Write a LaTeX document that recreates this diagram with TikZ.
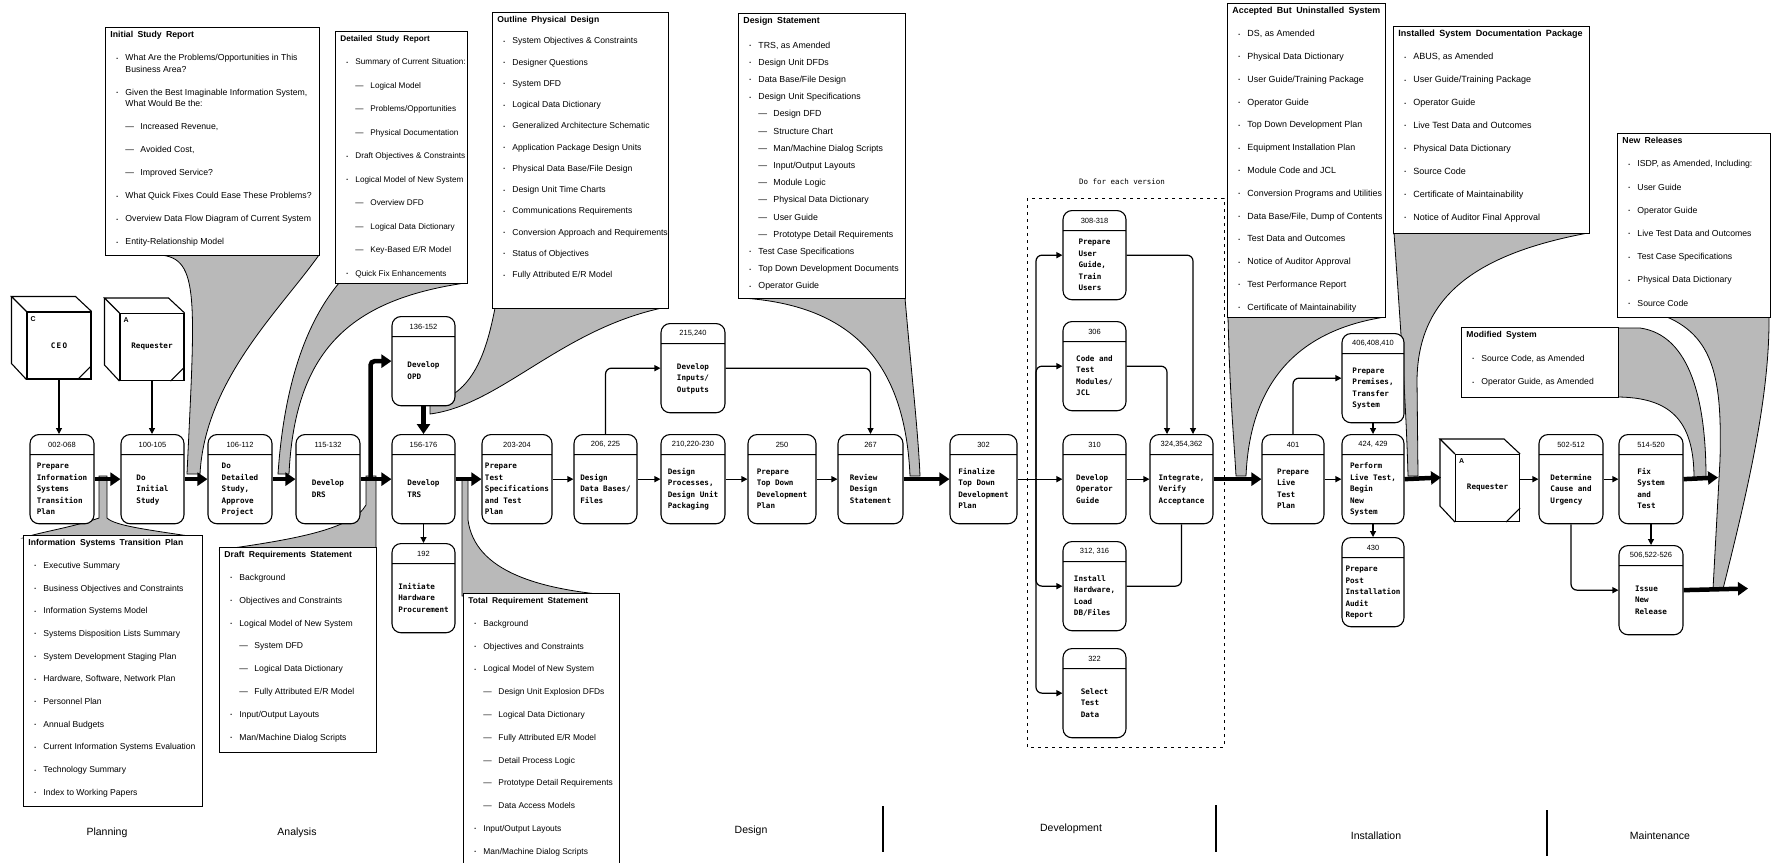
\documentclass[tikz,border=0pt]{standalone}
\usepackage{fontspec}
\setmainfont{Liberation Sans}
\newfontfamily\gothic{DejaVu Sans Mono}
\usetikzlibrary{positioning,arrows.meta,shapes.multipart,calc}

\newcommand{\idfont}{\fontsize{7.5}{8}\selectfont}
\newcommand{\pfont}{\gothic\bfseries\fontsize{7.6}{11.5}\selectfont}
% process box: width, number, text
\newcommand{\ptext}[3]{\parbox[c][19pt][c]{#1pt}{\centering\idfont #2}\nodepart{two}\parbox[c][68pt][c]{#1pt}{\centering\pfont\begin{tabular}{@{}l@{}}#3\end{tabular}}}
% document box: width, height, font size, line pitch, lines
\newcommand{\doclist}[5]{\begin{minipage}[t][#2pt][t]{#1pt}\raggedright\rightskip=-40pt plus 1fil\fontsize{#3}{#4}\selectfont\vspace*{4pt}#5\end{minipage}}
\newcommand{\hd}[1]{\hspace*{5pt}{\bfseries\spaceskip=0.5em plus 0.1em #1}}
\newcommand{\bi}{\hspace*{11pt}\makebox[9pt][l]{\fontsize{5}{5}\selectfont\raisebox{0.6pt}{•}}}
\newcommand{\si}{\hspace*{20pt}\makebox[15pt][l]{—}}
\newcommand{\ci}{\hspace*{20pt}}

\begin{document}
\begin{tikzpicture}[x=1pt, y=-1pt,
    proc/.style={draw, line width=1.1pt, fill=white, rounded corners=9pt, rectangle split, rectangle split parts=2, inner sep=0pt, anchor=north},
    doc/.style={draw, line width=0.9pt, fill=white, inner sep=0pt, anchor=north west},
    fun/.style={draw, line width=0.8pt, fill=gray!55},
    flow/.style={line width=4.5pt, -{Triangle[length=10pt,width=13pt]}},
    link/.style={line width=1.2pt, -{Triangle[length=6pt,width=6pt]}, rounded corners=6pt},
    ext/.style={draw, line width=1.1pt, fill=white, minimum width=64pt, minimum height=67pt, inner sep=0pt, font=\gothic\bfseries\fontsize{7.6}{9}\selectfont},
    phase/.style={font=\fontsize{10.5}{12}\selectfont}]
    \useasboundingbox (0,0) rectangle (1771,862);
    %
    % deliverables flowing out of the arrows
    \draw[fun] (160,252) -- (319,252) -- (319,255) .. controls (280,310) and (205,380) .. (200,474) -- (187,474) .. controls (195,300) and (200,258) .. (160,255) -- cycle;
    \draw[fun] (339,280) -- (465,280) -- (465,283) .. controls (350,300) and (295,350) .. (289,474) -- (278,474) .. controls (283,400) and (300,330) .. (339,283) -- cycle;
    \draw[fun] (495,305) -- (662,305) -- (662,308) .. controls (560,330) and (500,405) .. (430,414) -- (430,404) .. controls (470,395) and (485,360) .. (495,308) -- cycle;
    \draw[fun] (742,295) -- (905,295) -- (905,298) .. controls (912,380) and (918,430) .. (920,476) -- (910,476) .. controls (905,360) and (850,305) .. (742,298) -- cycle;
    \draw[fun] (1228,314) -- (1385,314) -- (1385,317) .. controls (1300,330) and (1250,380) .. (1246,476) -- (1236,476) .. controls (1234,440) and (1230,400) .. (1228,317) -- cycle;
    \draw[fun] (1394,230) -- (1588,230) -- (1588,233) .. controls (1470,255) and (1418,300) .. (1417,380) -- (1418,476) -- (1408,476) .. controls (1406,400) and (1400,320) .. (1394,233) -- cycle;
    \draw[fun] (1616,328) -- (1640,328) .. controls (1690,335) and (1706,400) .. (1706,478) -- (1694,478) .. controls (1694,420) and (1670,397) .. (1616,397) -- cycle;
    \draw[fun] (1662,315) .. controls (1715,335) and (1722,380) .. (1720,460) -- (1713,589) -- (1723,589) .. controls (1745,500) and (1770,400) .. (1769,315) -- cycle;
    \draw[fun] (99,476) -- (99,518) .. controls (70,528) and (40,532) .. (23,538) -- (202,538) .. controls (150,530) and (115,526) .. (107,518) -- (107,476) -- cycle;
    \draw[fun] (219,550) .. controls (290,540) and (352,530) .. (366,505) -- (366,476) -- (376,476) -- (376,550) -- cycle;
    \draw[fun] (462,478) -- (468,478) -- (468,520) .. controls (475,572) and (540,590) .. (619,596) -- (462,596) -- cycle;
    %
    % documents
    \node[doc] (isr) at (105,27) {\doclist{214}{228}{8.7}{11.5}{%
        \hd{Initial Study Report}\\[11.5pt]
        \bi What Are the Problems/Opportunities in This\\
        \ci Business Area?\\[11.5pt]
        \bi Given the Best Imaginable Information System,\\
        \ci What Would Be the:\\[11.5pt]
        \si Increased Revenue,\\[11.5pt]
        \si Avoided Cost,\\[11.5pt]
        \si Improved Service?\\[11.5pt]
        \bi What Quick Fixes Could Ease These Problems?\\[11.5pt]
        \bi Overview Data Flow Diagram of Current System\\[11.5pt]
        \bi Entity-Relationship Model}};
    \node[doc] (dsr) at (335,31) {\doclist{132}{252}{8.2}{23.5}{%
        \hd{Detailed Study Report}\\
        \bi Summary of Current Situation:\\
        \si Logical Model\\
        \si Problems/Opportunities\\
        \si Physical Documentation\\
        \bi Draft Objectives \& Constraints\\
        \bi Logical Model of New System\\
        \si Overview DFD\\
        \si Logical Data Dictionary\\
        \si Key-Based E/R Model\\
        \bi Quick Fix Enhancements}};
    \node[doc] (opd) at (492,12) {\doclist{176}{296}{8.6}{21.25}{%
        \hd{Outline Physical Design}\\
        \bi System Objectives \& Constraints\\
        \bi Designer Questions\\
        \bi System DFD\\
        \bi Logical Data Dictionary\\
        \bi Generalized Architecture Schematic\\
        \bi Application Package Design Units\\
        \bi Physical Data Base/File Design\\
        \bi Design Unit Time Charts\\
        \bi Communications Requirements\\
        \bi Conversion Approach and Requirements\\
        \bi Status of Objectives\\
        \bi Fully Attributed E/R Model}};
    \node[doc] (ds) at (738,13) {\doclist{167}{285}{8.8}{17.2}{%
        \hd{Design Statement}\\[7pt]
        \bi TRS, as Amended\\
        \bi Design Unit DFDs\\
        \bi Data Base/File Design\\
        \bi Design Unit Specifications\\
        \si Design DFD\\
        \si Structure Chart\\
        \si Man/Machine Dialog Scripts\\
        \si Input/Output Layouts\\
        \si Module Logic\\
        \si Physical Data Dictionary\\
        \si User Guide\\
        \si Prototype Detail Requirements\\
        \bi Test Case Specifications\\
        \bi Top Down Development Documents\\
        \bi Operator Guide}};
    \node[doc] (abus) at (1227,3) {\doclist{158}{314}{8.9}{22.8}{%
        \hd{Accepted But Uninstalled System}\\
        \bi DS, as Amended\\
        \bi Physical Data Dictionary\\
        \bi User Guide/Training Package\\
        \bi Operator Guide\\
        \bi Top Down Development Plan\\
        \bi Equipment Installation Plan\\
        \bi Module Code and JCL\\
        \bi Conversion Programs and Utilities\\
        \bi Data Base/File, Dump of Contents\\
        \bi Test Data and Outcomes\\
        \bi Notice of Auditor Approval\\
        \bi Test Performance Report\\
        \bi Certificate of Maintainability}};
    \node[doc] (isdp) at (1393,26) {\doclist{196}{207}{9}{22.9}{%
        \hd{Installed System Documentation Package}\\
        \bi ABUS, as Amended\\
        \bi User Guide/Training Package\\
        \bi Operator Guide\\
        \bi Live Test Data and Outcomes\\
        \bi Physical Data Dictionary\\
        \bi Source Code\\
        \bi Certificate of Maintainability\\
        \bi Notice of Auditor Final Approval}};
    \node[doc] (nrel) at (1617,133) {\doclist{153}{184}{8.7}{23.2}{%
        \hd{New Releases}\\
        \bi ISDP, as Amended, Including:\\
        \bi User Guide\\
        \bi Operator Guide\\
        \bi Live Test Data and Outcomes\\
        \bi Test Case Specifications\\
        \bi Physical Data Dictionary\\
        \bi Source Code}};
    \node[doc] (msys) at (1461,327) {\doclist{157}{70}{8.6}{23.5}{%
        \hd{Modified System}\\
        \bi Source Code, as Amended\\
        \bi Operator Guide, as Amended}};
    \node[doc] (istp) at (23,535) {\doclist{179}{271}{8.6}{22.7}{%
        \hd{Information Systems Transition Plan}\\
        \bi Executive Summary\\
        \bi Business Objectives and Constraints\\
        \bi Information Systems Model\\
        \bi Systems Disposition Lists Summary\\
        \bi System Development Staging Plan\\
        \bi Hardware, Software, Network Plan\\
        \bi Personnel Plan\\
        \bi Annual Budgets\\
        \bi Current Information Systems Evaluation\\
        \bi Technology Summary\\
        \bi Index to Working Papers}};
    \node[doc] (drs) at (219,547) {\doclist{157}{205}{8.6}{22.8}{%
        \hd{Draft Requirements Statement}\\
        \bi Background\\
        \bi Objectives and Constraints\\
        \bi Logical Model of New System\\
        \si System DFD\\
        \si Logical Data Dictionary\\
        \si Fully Attributed E/R Model\\
        \bi Input/Output Layouts\\
        \bi Man/Machine Dialog Scripts}};
    \node[doc] (trs) at (463,593) {\doclist{156}{276}{8.4}{22.8}{%
        \hd{Total Requirement Statement}\\
        \bi Background\\
        \bi Objectives and Constraints\\
        \bi Logical Model of New System\\
        \si Design Unit Explosion DFDs\\
        \si Logical Data Dictionary\\
        \si Fully Attributed E/R Model\\
        \si Detail Process Logic\\
        \si Prototype Detail Requirements\\
        \si Data Access Models\\
        \bi Input/Output Layouts\\
        \bi Man/Machine Dialog Scripts}};
    %
    % external entities
    \node[ext] (ceo) at (59,345.5) {C\,E\,O};
    \node[ext] (req1) at (152,347) {Requester};
    \node[ext] (req2) at (1487.5,488) {Requester};
    \foreach \c/\l in {ceo/C, req1/A, req2/A} {
        \draw[line width=1.1pt] (\c.north west) -- ++(-15,-15) -- ++(64,0) -- (\c.north east);
        \draw[line width=1.1pt] (\c.north west) ++(-15,-15) -- ++(0,67) -- (\c.south west);
        \draw[line width=1pt] ([xshift=-14pt]\c.south east) -- ([yshift=14pt]\c.south east);
        \node[anchor=north west, inner sep=0pt, font=\bfseries\fontsize{7}{8}\selectfont] at ([shift={(4pt,-5pt)}]\c.north west) {\l};
    }
    %
    % processes
    \node[proc] (p002) at (62,434) {\ptext{64}{002-068}{Prepare\\Information\\Systems\\Transition\\Plan}};
    \node[proc] (p100) at (152.5,434) {\ptext{63}{100-105}{Do\\Initial\\Study}};
    \node[proc] (p106) at (240,434) {\ptext{64}{106-112}{Do\\Detailed\\Study,\\Approve\\Project}};
    \node[proc] (p115) at (328,434) {\ptext{64}{115-132}{Develop\\DRS}};
    \node[proc] (p136) at (423.5,316) {\ptext{63}{136-152}{Develop\\OPD}};
    \node[proc] (p156) at (423.5,434) {\ptext{63}{156-176}{Develop\\TRS}};
    \node[proc] (p192) at (423.5,543) {\ptext{63}{192}{Initiate\\Hardware\\Procurement}};
    \node[proc] (p203) at (517,434) {\ptext{70}{203-204}{Prepare\\Test\\Specifications\\and Test\\Plan}};
    \node[proc] (p206) at (605.5,434) {\ptext{63}{206, 225}{Design\\Data Bases/\\Files}};
    \node[proc] (p210) at (693,434) {\ptext{64}{210,220-230}{Design\\Processes,\\Design Unit\\Packaging}};
    \node[proc] (p215) at (693,323) {\ptext{64}{215,240}{Develop\\Inputs/\\Outputs}};
    \node[proc] (p250) at (782,434) {\ptext{68}{250}{Prepare\\Top Down\\Development\\Plan}};
    \node[proc] (p267) at (870.5,434) {\ptext{65}{267}{Review\\Design\\Statement}};
    \node[proc] (p302) at (983.5,434) {\ptext{67}{302}{Finalize\\Top Down\\Development\\Plan}};
    \node[proc] (p308) at (1094.5,210) {\ptext{63}{308-318}{Prepare\\User\\Guide,\\Train\\Users}};
    \node[proc] (p306) at (1094.5,321) {\ptext{63}{306}{Code and\\Test\\Modules/\\JCL}};
    \node[proc] (p310) at (1094.5,434) {\ptext{63}{310}{Develop\\Operator\\Guide}};
    \node[proc] (p312) at (1094.5,541) {\ptext{63}{312, 316}{Install\\Hardware,\\Load\\DB/Files}};
    \node[proc] (p322) at (1094.5,648) {\ptext{63}{322}{Select\\Test\\Data}};
    \node[proc] (p324) at (1181.5,434) {\ptext{63}{324,354,362}{Integrate,\\Verify\\Acceptance}};
    \node[proc] (p401) at (1293,434) {\ptext{62}{401}{Prepare\\Live\\Test\\Plan}};
    \node[proc] (p406) at (1373,333) {\ptext{62}{406,408,410}{Prepare\\Premises,\\Transfer\\System}};
    \node[proc] (p424) at (1373,434) {\ptext{62}{424, 429}{Perform\\Live Test,\\Begin\\New\\System}};
    \node[proc] (p430) at (1373,537) {\ptext{62}{430}{Prepare\\Post\\Installation\\Audit\\Report}};
    \node[proc] (p502) at (1571,434) {\ptext{64}{502-512}{Determine\\Cause and\\Urgency}};
    \node[proc] (p514) at (1651,434) {\ptext{64}{514-520}{Fix\\System\\and\\Test}};
    \node[proc] (p506) at (1651,545) {\ptext{64}{506,522-526}{Issue\\New\\Release}};
    %
    \node[coordinate] (fork) at (1036,477.5) {};
    \node[coordinate] (req2b) at (1441,477.5) {};
    \node[coordinate] (out1) at (1718,477.5) {};
    \node[coordinate] (out2) at (1748,588.5) {};
    %
    % flows
    \draw[link] (ceo.south) -- (ceo.south |- p002.north);
    \draw[link] (req1.south) -- (req1.south |- p100.north);
    \draw[flow] (p002) -- (p100);
    \draw[flow] (p100) -- (p106);
    \draw[flow] (p106) -- (p115);
    \draw[flow] (p115) -- (p156);
    \draw[flow, rounded corners=4pt] ([xshift=10pt]p115.east) |- (p136.west);
    \draw[flow] (p136) -- (p156);
    \draw[link] (p156) -- (p192);
    \draw[flow] (p156) -- (p203);
    \draw[link] (p203) -- (p206);
    \draw[link] (p206) -- (p210);
    \draw[link] (p210) -- (p250);
    \draw[link] (p250) -- (p267);
    \draw[link] (p206.north) |- (p215.west);
    \draw[link] (p215.east) -| (p267.north);
    \draw[flow] (p267) -- (p302);
    %
    \draw[link] (p302) -- (p310);
    \draw[link] (fork) |- (p308.west);
    \draw[link] (fork) |- (p306.west);
    \draw[link] (fork) |- (p312.west);
    \draw[link] (fork) |- (p322.west);
    \draw[link] (p308.east) -| ([xshift=11.5pt]p324.north);
    \draw[link] (p306.east) -| ([xshift=-14.5pt]p324.north);
    \draw[link] (p310) -- (p324);
    \draw[line width=1.2pt, rounded corners=6pt] (p312.east) -| (p324.south);
    \draw[flow] (p324) -- (p401);
    %
    \draw[link] (p401.north) |- (p406.west);
    \draw[link] (p401) -- (p424);
    \draw[link] (p406) -- (p424);
    \draw[link] (p424) -- (p430);
    \draw[flow] (p424.east) -- (req2b);
    \draw[link] (req2.east |- p502.west) -- (p502.west);
    \draw[link] (p502) -- (p514);
    \draw[link] (p514) -- (p506);
    \draw[link] (p502.south) |- (p506.west);
    \draw[flow] (p514.east) -- (out1);
    \draw[flow] (p506.east) -- (out2);
    %
    \node[font=\gothic\fontsize{7.5}{9}\selectfont] (each) at (1122,182) {Do for each version};
    \draw[line width=1pt, dash pattern=on 3pt off 4pt] (1027,198) rectangle (1224,747);
    %
    % phases
    \node[phase] (plan) at (107,833) {Planning};
    \node[phase] (anal) at (297,833) {Analysis};
    \node[phase] (desg) at (751,831) {Design};
    \node[phase] (devl) at (1071,829) {Development};
    \node[phase] (inst) at (1376,836) {Installation};
    \node[phase] (mnt) at (1660,836) {Maintenance};
    \draw[line width=1.3pt] (883,806) -- (883,852);
    \draw[line width=1.3pt] (1216,805) -- (1216,852);
    \draw[line width=1.3pt] (1547,810) -- (1547,856);
\end{tikzpicture}
\end{document}
